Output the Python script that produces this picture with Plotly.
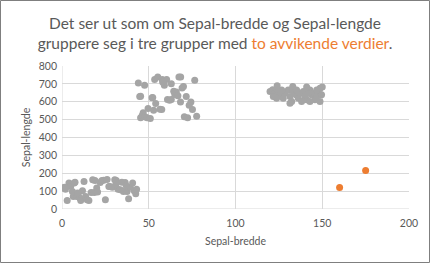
import plotly.graph_objects as go

# Cluster 1 (low group)
c1_x = [0.6, 2, 3, 4, 5, 6, 7, 7.5, 6.5, 8.6, 9.3, 10.3, 10.8, 11.8, 12.7, 13.6, 14.5, 15.5,
        16.8, 17.7, 18.6, 20, 20.5, 22, 23, 24, 25, 26, 27, 27.6, 29, 30.4, 31.3, 32.3, 33.6,
        34.5, 35.4, 36.4, 37.5, 38.4, 39.4, 40.7, 41.6, 42.5, 1.5, 9, 19, 31, 37, 43]
c1_y = [117, 111, 48, 145, 126, 98, 145, 150, 70, 70, 83, 61, 48, 102, 154, 70, 52, 48,
        93, 163, 93, 117, 95, 148, 160, 161, 52, 165, 126, 126, 121, 163, 160, 111, 108,
        150, 98, 148, 98, 58, 122, 145, 102, 85, 122, 90, 160, 135, 130, 110]

# Cluster 2 (upper-left group)
c2_x = [44, 44.8, 47.6, 45.3, 46.3, 46.8, 47.8, 49, 49.6, 50.9, 51.9, 52.8, 54, 53.4, 55.2,
        56.5, 57.5, 57.8, 59, 60.3, 60.8, 62, 63, 64.4, 65, 65.9, 66.8, 67.4, 68.3, 69.2, 70,
        70.5, 71.6, 72.4, 73.3, 74.3, 75.2, 76.5, 77.6, 52.3, 45.3, 63, 58, 68.4]
c2_y = [705, 629, 692, 510, 525, 538, 516, 510, 562, 506, 623, 553, 590, 725, 738,
        558, 556, 725, 692, 725, 612, 608, 701, 659, 640, 655, 633, 738, 599, 677, 686,
        516, 629, 510, 581, 599, 556, 720, 519, 624, 631, 613, 710, 739]

# Cluster 3 (upper-right group)
c3_x = [119.9, 121.4, 122.7, 124.7, 126, 127.5, 128.5, 130.4, 131.4, 132.4, 133.3, 134.9,
        136.2, 137.2, 139.1, 140, 141, 142.9, 143.9, 144.8, 145.8, 146.8, 147.7, 148.7,
        149.6, 148.7, 142.9, 138.1, 131.4, 121.8, 123.7, 126.6, 135.2, 141.9, 146.8,
        124, 133, 141, 150]
c3_y = [657, 667, 648, 661, 639, 620, 648, 666, 629, 601, 657, 639,
        620, 648, 657, 629, 611, 666, 639, 648, 611, 629, 657, 676,
        639, 601, 601, 601, 592, 629, 620, 666, 666, 648, 666,
        690, 685, 683, 682]

# Outliers
out_x = [160, 175]
out_y = [120, 215]

gray_x = c1_x + c2_x + c3_x
gray_y = c1_y + c2_y + c3_y

fig = go.Figure()
fig.add_trace(go.Scatter(x=gray_x, y=gray_y, mode="markers",
                         marker=dict(color="#A5A5A5", size=7), showlegend=False))
fig.add_trace(go.Scatter(x=out_x, y=out_y, mode="markers",
                         marker=dict(color="#ED7D31", size=7), showlegend=False))

W, H = 430, 263
ml, mr, mt, mb = 62, 21, 66, 54
pw, ph = W - ml - mr, H - mt - mb

font_family = "Lato, Open Sans, sans-serif"

fig.update_layout(
    width=W, height=H,
    margin=dict(l=ml, r=mr, t=mt, b=mb),
    paper_bgcolor="white", plot_bgcolor="white",
    font=dict(family=font_family, color="#595959", size=10),
    title=dict(
        text="Det ser ut som om Sepal-bredde og Sepal-lengde<br>gruppere seg i tre grupper med "
             "<span style='color:#ED7D31'>to avvikende verdier</span>.",
        x=0.5, xanchor="center", y=1 - 29 / H, yanchor="middle",
        font=dict(family=font_family, size=15.5, color="#595959"),
    ),
    xaxis=dict(range=[0, 200], dtick=50, showgrid=True, gridcolor="#D9D9D9", gridwidth=1,
               zeroline=False, showline=False, ticks="", ticklabelstandoff=6,
               tickfont=dict(size=10.5, color="#595959"),
               title=dict(text="Sepal-bredde", font=dict(size=10.5, color="#595959"), standoff=10)),
    yaxis=dict(range=[0, 800], dtick=100, showgrid=True, gridcolor="#D9D9D9", gridwidth=1,
               zeroline=False, showline=False, ticks="", ticklabelstandoff=4,
               tickfont=dict(size=10.5, color="#595959"),
               title=dict(text="Sepal-lengde", font=dict(size=10.5, color="#595959"), standoff=6)),
    shapes=[
        dict(type="line", xref="x", yref="y", x0=0, x1=0, y0=0, y1=800,
             line=dict(color="#D9D9D9", width=1), layer="below"),
        dict(type="line", xref="x", yref="y", x0=0, x1=200, y0=0, y1=0,
             line=dict(color="#D9D9D9", width=1), layer="below"),
        dict(type="rect", xref="paper", yref="paper",
             x0=(-ml + 0.5) / pw, x1=1 + (mr - 0.5) / pw,
             y0=(-mb + 0.5) / ph, y1=1 + (mt - 0.5) / ph,
             line=dict(color="#7F7F7F", width=1)),
    ],
)

fig.write_html("out.html")
